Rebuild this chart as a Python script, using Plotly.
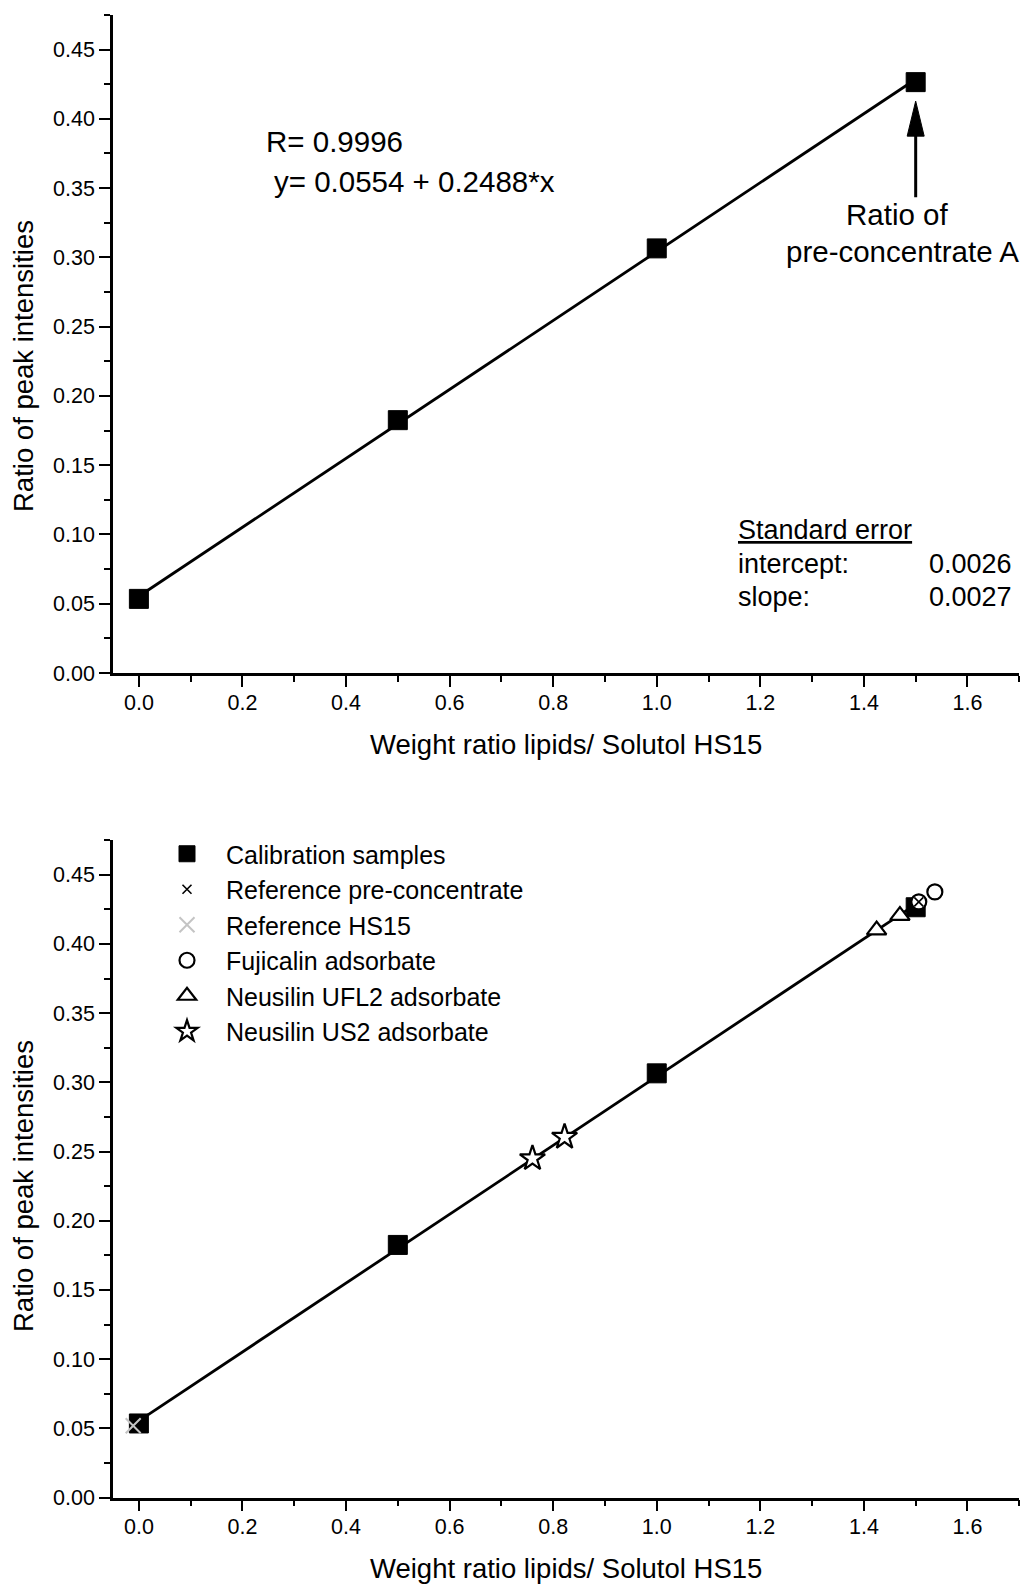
import plotly.graph_objects as go

# Calibration standards: weight ratio lipids / Solutol HS15 vs. ratio of peak intensities
cal_x = [0.0, 0.5, 1.0, 1.5]
cal_y = [0.0535, 0.1825, 0.3065, 0.4265]

# Linear regression of the calibration
fit_intercept = 0.0554
fit_slope = 0.2488
fit_r = 0.9996
se_intercept = 0.0026
se_slope = 0.0027
fit_x = [0.0, 1.5]

# Samples evaluated with the calibration
ref_pre_x = [1.506]
ref_pre_y = [0.4304]
ref_hs15_x = [-0.011]
ref_hs15_y = [0.0519]
fuji_x = [1.506, 1.537]
fuji_y = [0.4304, 0.4376]
ufl2_x = [1.4246, 1.4696]
ufl2_y = [0.4100, 0.4205]
us2_x = [0.760, 0.822]
us2_y = [0.2450, 0.2605]

FONT = "Liberation Sans, Arial, sans-serif"
W, H = 1021, 1584

fit_y = [fit_intercept + fit_slope * v for v in fit_x]

fig = go.Figure()

for xa, ya, leg in (("x", "y", False), ("x2", "y2", True)):
    fig.add_trace(go.Scatter(x=fit_x, y=fit_y, mode="lines", xaxis=xa, yaxis=ya,
                             line=dict(color="black", width=2.8), showlegend=False,
                             hoverinfo="skip"))
    fig.add_trace(go.Scatter(x=cal_x, y=cal_y, mode="markers", xaxis=xa, yaxis=ya,
                             name="Calibration samples", showlegend=leg, legendrank=1,
                             marker=dict(symbol="square", size=19, color="black",
                                         line=dict(color="black", width=1))))

fig.add_trace(go.Scatter(x=ref_hs15_x, y=ref_hs15_y, mode="markers", xaxis="x2", yaxis="y2",
                         name="Reference HS15", legendrank=3,
                         marker=dict(symbol="x-thin-open", size=15, color="#c4c4c4",
                                     line=dict(color="#c4c4c4", width=2))))
fig.add_trace(go.Scatter(x=fuji_x, y=fuji_y, mode="markers", xaxis="x2", yaxis="y2",
                         name="Fujicalin adsorbate", legendrank=4,
                         marker=dict(symbol="circle", size=15, color="white",
                                     line=dict(color="black", width=2.2))))
fig.add_trace(go.Scatter(x=ref_pre_x, y=ref_pre_y, mode="markers", xaxis="x2", yaxis="y2",
                         name="Reference pre-concentrate", legendrank=2,
                         marker=dict(symbol="x-thin-open", size=9, color="black",
                                     line=dict(color="black", width=1.6))))
fig.add_trace(go.Scatter(x=ufl2_x, y=ufl2_y, mode="markers", xaxis="x2", yaxis="y2",
                         name="Neusilin UFL2 adsorbate", legendrank=5,
                         marker=dict(symbol="triangle-up", size=17, color="white",
                                     line=dict(color="black", width=2.2))))
fig.add_trace(go.Scatter(x=us2_x, y=us2_y, mode="markers", xaxis="x2", yaxis="y2",
                         name="Neusilin US2 adsorbate", legendrank=6,
                         marker=dict(symbol="star", size=19, color="white",
                                     line=dict(color="black", width=2.2))))

x_dom = [113 / W, 1019.3 / W]
top_dom = [1 - 673 / H, 1 - 14.8 / H]
bot_dom = [1 - 1497.5 / H, 1 - 840 / H]

TICK = 21.5
xaxis_style = dict(range=[-0.05, 1.7001], dtick=0.2, tick0=0, tickformat=".1f",
                   showline=True, linecolor="black", linewidth=2.6, showgrid=False,
                   zeroline=False, ticks="outside", ticklen=11, tickwidth=2, tickcolor="black",
                   automargin=False, ticklabelstandoff=-3,
                   tickfont=dict(family=FONT, size=TICK, color="black"),
                   minor=dict(dtick=0.1, tick0=0, ticks="outside", ticklen=6, tickwidth=2,
                              tickcolor="black", showgrid=False))
yaxis_style = dict(range=[0, 0.4751], dtick=0.05, tick0=0, tickformat=".2f",
                   showline=True, linecolor="black", linewidth=2.6, showgrid=False,
                   zeroline=False, ticks="outside", ticklen=11, tickwidth=2, tickcolor="black",
                   automargin=False,
                   tickfont=dict(family=FONT, size=TICK, color="black"),
                   minor=dict(dtick=0.025, tick0=0, ticks="outside", ticklen=6, tickwidth=2,
                              tickcolor="black", showgrid=False))

fig.update_layout(
    template="none",
    width=W, height=H,
    margin=dict(l=0, r=0, t=0, b=0, pad=0, autoexpand=False),
    paper_bgcolor="white", plot_bgcolor="white",
    font=dict(family=FONT, color="black"),
    xaxis=dict(domain=x_dom, anchor="y", **xaxis_style),
    yaxis=dict(domain=top_dom, anchor="x", **yaxis_style),
    xaxis2=dict(domain=x_dom, anchor="y2", **xaxis_style),
    yaxis2=dict(domain=bot_dom, anchor="x2", **yaxis_style),
    legend=dict(x=148 / W, y=1 - 831 / H, xanchor="left", yanchor="top",
                bgcolor="rgba(0,0,0,0)", borderwidth=0, itemwidth=68,
                font=dict(family=FONT, size=25, color="black"),
                tracegroupgap=0),
    showlegend=True,
)


def note(text, x, y, xanchor="left", yanchor="middle", size=27, angle=0, align="left"):
    fig.add_annotation(text=text, x=x / W, y=1 - y / H, xref="paper", yref="paper",
                       xanchor=xanchor, yanchor=yanchor, showarrow=False, textangle=angle,
                       align=align, font=dict(family=FONT, size=size, color="black"))


# axis titles
for yc in (366, 1186):
    note("Ratio of peak intensities", 23, yc, xanchor="center", angle=-90, size=27.5)
for yc in (744, 1568.5):
    note("Weight ratio lipids/ Solutol HS15", 566, yc, xanchor="center", size=27.5)

# regression statistics
note(f"R= {fit_r:.4f}", 264, 141.4, size=29.5)
note(f"y= {fit_intercept:.4f} + {fit_slope:.4f}*x", 272, 181.8, size=29.5)
note("<u>Standard error</u>", 736, 530)
note("intercept:", 736, 563.5)
note("slope:", 736, 597)
note(f"{se_intercept:.4f}", 1014, 563.5, xanchor="right")
note(f"{se_slope:.4f}", 1014, 597, xanchor="right")
note("Ratio of", 897, 215, xanchor="center", size=29.5)
note("pre-concentrate A", 902, 251.5, xanchor="center", size=29.5)

# arrow pointing at the pre-concentrate ratio (offsets in pixels from the data point)
fig.add_shape(type="line", xref="x", yref="y", xsizemode="pixel", ysizemode="pixel",
              xanchor=cal_x[-1], yanchor=cal_y[-1], x0=0, x1=0, y0=-115, y1=-50,
              line=dict(color="black", width=3))
fig.add_shape(type="path", xref="x", yref="y", xsizemode="pixel", ysizemode="pixel",
              xanchor=cal_x[-1], yanchor=cal_y[-1],
              path="M -8.5,-54 L 8.5,-54 L 0,-19 Z",
              fillcolor="black", line=dict(color="black", width=1))

fig.write_html("out.html")
